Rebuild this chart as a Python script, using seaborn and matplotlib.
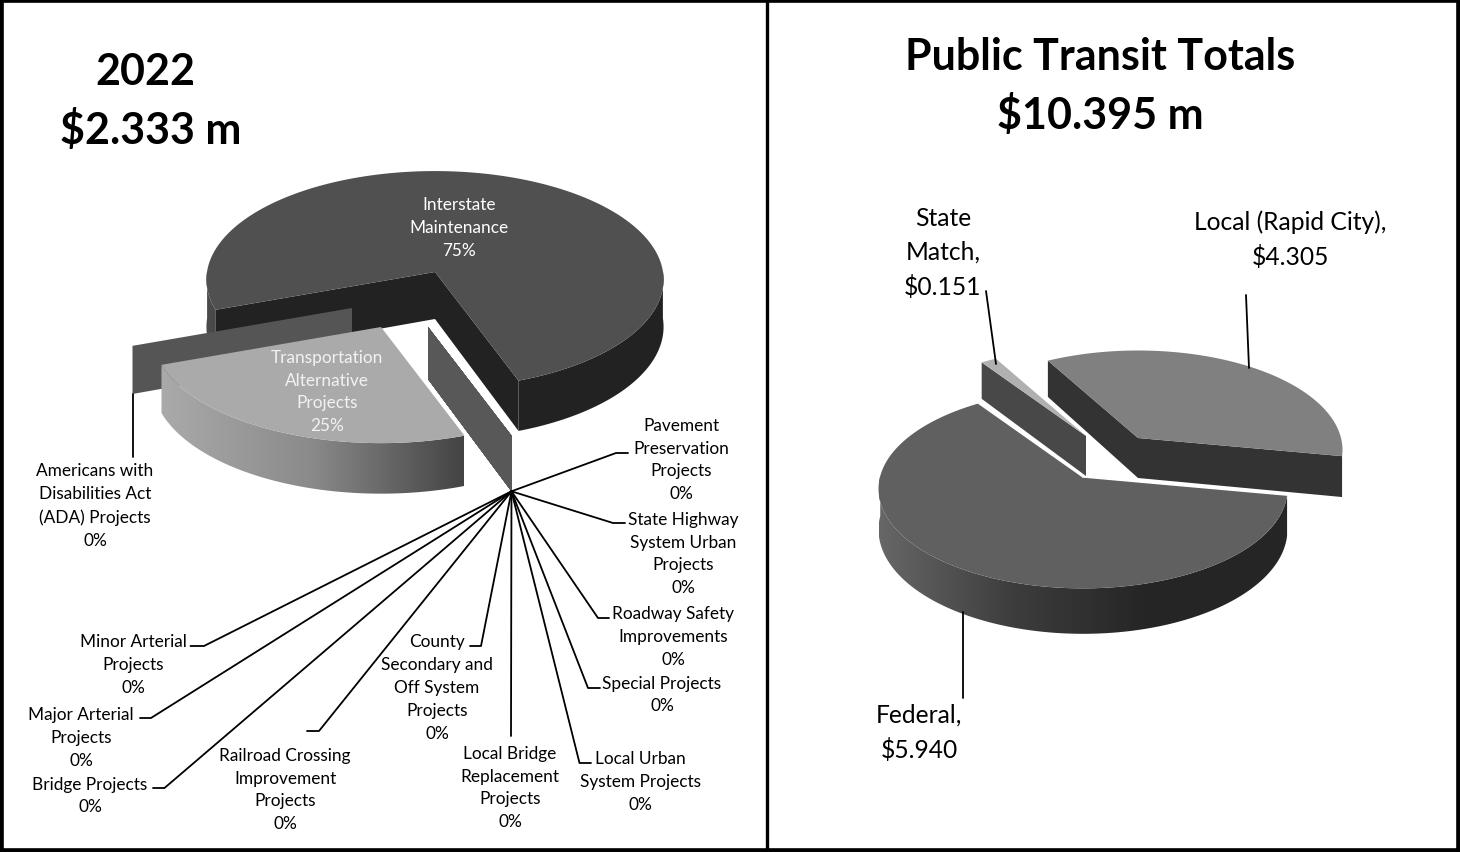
import numpy as np
import seaborn as sns
import matplotlib.pyplot as plt
from matplotlib.patches import Polygon

# left pie, clockwise from its first slice
left_names = ["Interstate\nMaintenance", "Pavement\nPreservation\nProjects", "State Highway\nSystem Urban\nProjects",
              "Roadway Safety\nImprovements", "Special Projects", "Local Urban\nSystem Projects",
              "Local Bridge\nReplacement\nProjects", "County\nSecondary and\nOff System\nProjects",
              "Railroad Crossing\nImprovement\nProjects", "Bridge Projects", "Major Arterial\nProjects",
              "Minor Arterial\nProjects", "Transportation\nAlternative\nProjects",
              "Americans with\nDisabilities Act\n(ADA) Projects"]
left_pct = [75, 0, 0, 0, 0, 0, 0, 0, 0, 0, 0, 0, 25, 0]

# right pie, clockwise
right_names = ["Local (Rapid City),", "Federal,", "State\nMatch,"]
right_vals = [4.305, 5.940, 0.151]

left_title = ["2022", "$2.333 m"]
right_title = ["Public Transit Totals", "$10.395 m"]

sns.set_theme(style="white")
plt.rcParams["font.family"] = ["Lato", "DejaVu Sans"]

# layout, in pixels of the 1460x853 picture
LEFT = dict(cx=435, cy=273, rx=228, ry=108, k=0.07, start=200, squeeze=0, squeeze_at=0)
RIGHT = dict(cx=1083, cy=478, rx=203, ry=98, k=0.12, start=129, squeeze=10, squeeze_at=234.5)

left_offsets = {"Transportation\nAlternative\nProjects": (-54, 55),
                "Americans with\nDisabilities Act\n(ADA) Projects": (-83, 36)}
zero_offset = (-7, 55)
right_offsets = [(55, -39), (0, 0), (3, -41)]

left_text = [(459, 228), (681, 460), (683, 554), (673, 637), (662, 695), (640, 782), (510, 788),
             (437, 688), (285, 790), (90, 796), (81, 738), (133, 665), (327, 392), (95, 506)]
left_elbow = [None, (616, 454, 628), (613, 524, 625), (598, 619, 609), (588, 689, 600), (579.5, 764, 591),
              (511, 737, 511), (481, 647, 470), (319, 732, 307), (164.5, 789, 153), (151, 719, 140),
              (204, 647, 190.5), None, None]


def angles(values, start):
    ends = start - 360 * np.cumsum(values) / np.sum(values)
    return np.r_[start, ends[:-1]], ends


def project(pie, theta, off=(0, 0), depth=0):
    theta = np.asarray(theta, dtype=float)
    screen = np.radians(theta + pie["squeeze"] * np.sin(np.radians(theta - pie["squeeze_at"])))
    u, v = np.cos(screen), np.sin(screen)
    s = 1 / (1 + pie["k"] * v)
    return pie["cx"] + off[0] + pie["rx"] * u * s, pie["cy"] + off[1] - pie["ry"] * v * s + depth * s


def draw_top(ax, pie, a0, a1, color, off=(0, 0)):
    x, y = project(pie, np.linspace(a0, a1, 200), off)
    ax.fill(np.r_[pie["cx"] + off[0], x], np.r_[pie["cy"] + off[1], y], color=color, lw=0, zorder=ax.zz)
    ax.zz += 1


def draw_wall(ax, pie, theta, color, depth, off=(0, 0)):
    x, y = project(pie, theta, off)
    xb, yb = project(pie, theta, off, depth)
    cx, cy = pie["cx"] + off[0], pie["cy"] + off[1]
    ax.fill([cx, x, xb, cx], [cy, y, yb, cy + depth], color=color, lw=0, zorder=ax.zz)
    ax.zz += 1


def draw_side(ax, pie, a0, a1, colors, depth, off=(0, 0)):
    # rim of a slice, shaded left to right with a gradient clipped to the rim shape
    t = np.linspace(a0, a1, 400)
    x, y = project(pie, t, off)
    xb, yb = project(pie, t, off, depth)
    near = y >= pie["cy"] + off[1] - 1
    lo, hi = x[near].min(), x[near].max()
    pal = np.array(sns.blend_palette(colors, n_colors=128))[:, :3][None, :, :]
    runs = np.split(np.arange(len(t)), np.where(np.diff(near.astype(int)) != 0)[0] + 1)
    for r in runs:
        if not near[r[0]]:
            continue
        pts = np.c_[np.r_[x[r], xb[r][::-1]], np.r_[y[r], yb[r][::-1]]]
        im = ax.imshow(pal, extent=(lo, hi, 853, 0), aspect="auto", zorder=ax.zz)
        im.set_clip_path(Polygon(pts, transform=ax.transData))
    ax.zz += 1


fig = plt.figure(figsize=(14.6, 8.53), dpi=100)
ax = fig.add_axes([0, 0, 1, 1])
ax.zz = 2

# left pie
a0, a1 = angles(left_pct, LEFT["start"])
D = 47
draw_side(ax, LEFT, a0[0], a1[0], ["#4a4a4a", "#2a2a2a", "#222222", "#222222"], D)
draw_wall(ax, LEFT, a0[0], "#222222", D)
draw_wall(ax, LEFT, a1[0], "#222222", D)
draw_top(ax, LEFT, a0[0], a1[0], "#505050")
ada = left_names[-1]
draw_wall(ax, LEFT, a0[-1], "#555555", D, left_offsets[ada])
tr = left_names[-2]
draw_side(ax, LEFT, a0[-2], a1[-2], ["#aaaaaa", "#8a8a8a", "#444444"], D, left_offsets[tr])
draw_top(ax, LEFT, a0[-2], a1[-2], "#aaaaaa", left_offsets[tr])
for i in range(1, 12):
    draw_wall(ax, LEFT, a0[i], "#585858", 52, zero_offset)

# leader lines start at the bottom outer corner of the zero slices
lx, ly = project(LEFT, a0[1], zero_offset, 52)
for i in range(1, 12):
    ex, ey, tx = left_elbow[i]
    ax.plot([lx, ex, tx], [ly, ey, ey], color="black", lw=1.3, zorder=50)
ax.plot([133, 133], [395, 458], color="black", lw=1.3, zorder=50)

# label text
for i, name in enumerate(left_names):
    col = "white" if i == 0 else "#f2f2f2" if i == 12 else "black"
    ax.text(left_text[i][0], left_text[i][1], f"{name}\n{left_pct[i]}%", ha="center", va="center",
            fontsize=12.4, color=col, linespacing=1.52, zorder=60)

# right pie
a0, a1 = angles(right_vals, RIGHT["start"])
D = 40
draw_wall(ax, RIGHT, a0[0], "#333333", D, right_offsets[0])
draw_wall(ax, RIGHT, a1[0], "#333333", D, right_offsets[0])
draw_top(ax, RIGHT, a0[0], a1[0], "#808080", right_offsets[0])
draw_wall(ax, RIGHT, a0[2], "#484848", D, right_offsets[2])
draw_top(ax, RIGHT, a0[2], a1[2], "#b0b0b0", right_offsets[2])
draw_side(ax, RIGHT, a0[1], a1[1], ["#666666", "#3c3c3c", "#252525", "#252525"], D)
draw_top(ax, RIGHT, a0[1], a1[1], "#606060")
for th in [a0[1], a1[1]]:
    ex, ey = project(RIGHT, th)
    ax.plot([RIGHT["cx"], ex], [RIGHT["cy"], ey], color="white", lw=1, zorder=ax.zz)

ax.plot([986, 996], [292, 365], color="black", lw=1.3, zorder=50)
ax.plot([1246, 1249], [296, 369], color="black", lw=1.3, zorder=50)
ax.plot([963, 963], [613, 699], color="black", lw=1.3, zorder=50)

right_text = [(1290, 240), (919, 733), (943, 253)]
for name, v, (x, y) in zip(right_names, right_vals, right_text):
    ax.text(x, y, f"{name}\n${v:.3f}", ha="center", va="center", fontsize=17.7, color="black",
            linespacing=1.55, zorder=60)

# titles
for t, (x, y) in zip(left_title + right_title, [(145, 72), (151, 130), (1100, 57), (1100, 115)]):
    ax.text(x, y, t, ha="center", va="center", fontsize=31, fontweight="bold", color="black", zorder=60)

# frame and divider
ax.set_xlim(0, 1460)
ax.set_ylim(853, 0)
ax.set_xticks([])
ax.set_yticks([])
ax.grid(False)
for s in ax.spines.values():
    s.set_linewidth(5.5)
    s.set_color("black")
    s.set_zorder(100)
ax.axvline(767, color="black", lw=2.4, zorder=100)

fig.savefig("out.png", dpi=100)
